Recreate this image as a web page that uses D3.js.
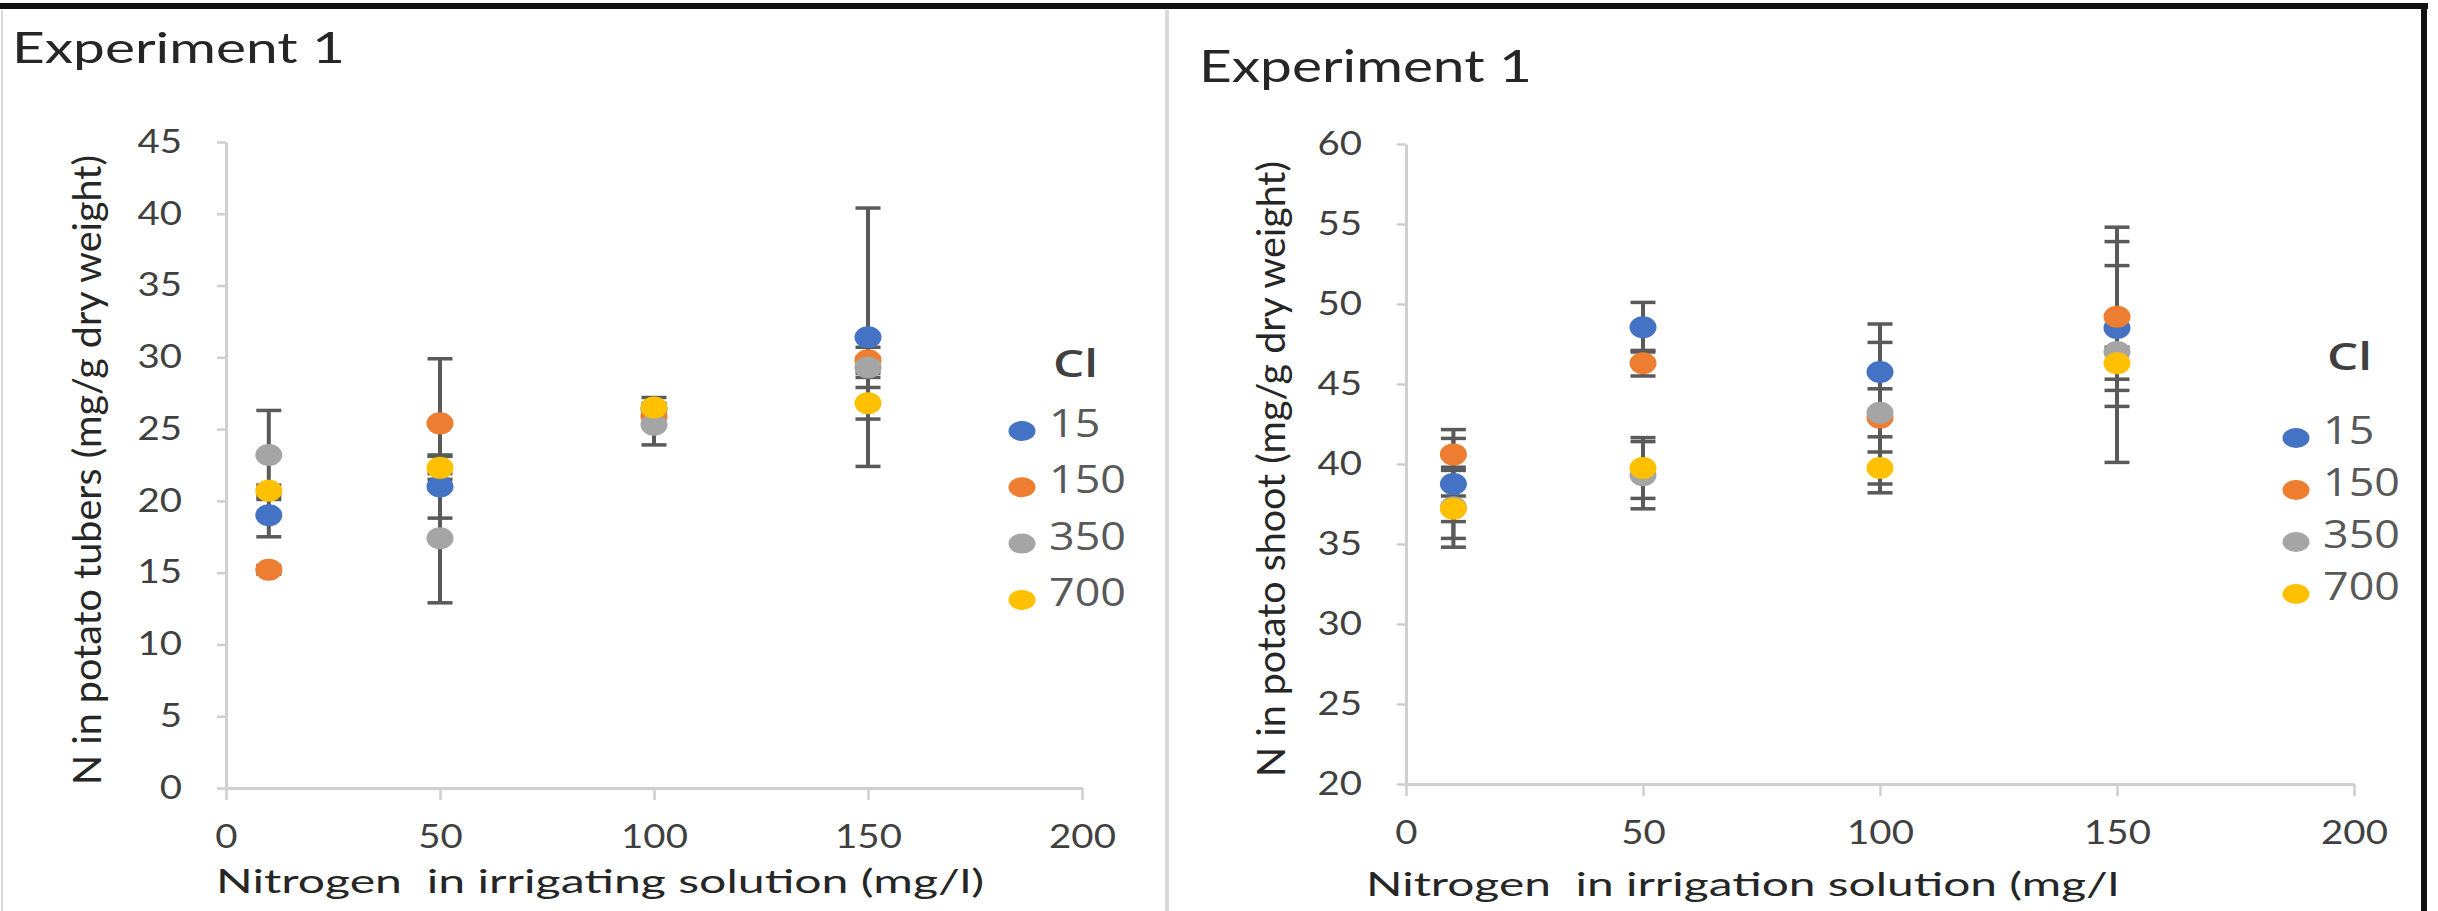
<!DOCTYPE html>
<html>
<head>
<meta charset="utf-8">
<script src="https://cdn.jsdelivr.net/npm/d3@7"></script>
<style>
  body { margin: 0; background: #ffffff; }
  svg { display: block; }
</style>
</head>
<body>
<svg id="chart" width="2438" height="911"></svg>
<script>
// Nitrogen supplied in the irrigation water (mg/l) and chloride treatments
const nitrogenLevels = [10, 50, 100, 150];
const chlorideLevels = ["15", "150", "350", "700"];
const seriesColors = ["#4472C4", "#ED7D31", "#A5A5A5", "#FFC000"];

// N in potato tubers (mg/g dry weight), one array per chloride level
const tuberN15  = [19.0, 21.0, 26.4, 31.4];
const tuberN150 = [15.2, 25.4, 25.9, 29.8];
const tuberN350 = [23.2, 17.4, 25.3, 29.3];
const tuberN700 = [20.7, 22.3, 26.5, 26.8];
const tuberErr15  = [1.5, 2.2, 0.4, 9.0];
const tuberErr150 = [0.3, 4.5, 0.5, 0.9];
const tuberErr350 = [3.1, 4.5, 1.4, 0.7];
const tuberErr700 = [0.4, 0.8, 0.7, 1.1];

// N in potato shoot (mg/g dry weight)
const shootN15  = [38.75, 48.55, 45.75, 48.5];
const shootN150 = [40.6, 46.3, 42.9, 49.2];
const shootN350 = [37.3, 39.3, 43.2, 47.0];
const shootN700 = [37.2, 39.75, 39.75, 46.3];
const shootErr15  = [3.4, 1.55, 3.0, 3.9];
const shootErr150 = [1.0, 0.8, 4.7, 5.6];
const shootErr350 = [2.5, 2.1, 1.5, 6.9];
const shootErr700 = [0.8, 1.9, 1.0, 1.0];

// Axis ticks
const nitrogenTicks = [0, 50, 100, 150, 200];
const tuberTicks = [0, 5, 10, 15, 20, 25, 30, 35, 40, 45];
const shootTicks = [20, 25, 30, 35, 40, 45, 50, 55, 60];

const svg = d3.select("#chart");
const FONT = "Lato, 'Open Sans', sans-serif";
const LEGEND_FONT = "'Open Sans', 'Noto Sans', sans-serif";
const LABEL_STRETCH = 1.2;

// Outer frame
svg.append("rect").attr("x", 0).attr("y", 0).attr("width", 2438).attr("height", 911).attr("fill", "#fff");
svg.append("line").attr("x1", 2).attr("x2", 2).attr("y1", 10).attr("y2", 911)
  .attr("stroke", "#d9d9d9").attr("stroke-width", 2);
svg.append("line").attr("x1", 1167).attr("x2", 1167).attr("y1", 10).attr("y2", 911)
  .attr("stroke", "#d9d9d9").attr("stroke-width", 4);
svg.append("line").attr("x1", 0).attr("x2", 2428).attr("y1", 6).attr("y2", 6)
  .attr("stroke", "#111").attr("stroke-width", 6);
svg.append("line").attr("x1", 2424).attr("x2", 2424).attr("y1", 3).attr("y2", 911)
  .attr("stroke", "#111").attr("stroke-width", 6);

const panels = [
  {
    title: "Experiment 1", titleX: 12, titleY: 63, titleSize: 43, titleLen: 333,
    yLabel: "N in potato tubers (mg/g dry weight)", yLabelX: 86, yLabelLen: 630,
    xLabel: "Nitrogen  in irrigating solution (mg/l)", xLabelX: 216, xLabelY: 893, xLabelLen: 768,
    left: 226, right: 1082, top: 142, bottom: 788,
    yDomain: [0, 45], yTicks: tuberTicks,
    means: [tuberN15, tuberN150, tuberN350, tuberN700],
    errs: [tuberErr15, tuberErr150, tuberErr350, tuberErr700],
    legendX: 1022, legendY: 431, legendStep: 56.3, legendTitleY: 377
  },
  {
    title: "Experiment 1", titleX: 1199, titleY: 82, titleSize: 44, titleLen: 333,
    yLabel: "N in potato shoot (mg/g dry weight)", yLabelX: 1270, yLabelLen: 616,
    xLabel: "Nitrogen  in irrigation solution (mg/l", xLabelX: 1366, xLabelY: 896, xLabelLen: 753,
    left: 1406, right: 2354, top: 144, bottom: 784,
    yDomain: [20, 60], yTicks: shootTicks,
    means: [shootN15, shootN150, shootN350, shootN700],
    errs: [shootErr15, shootErr150, shootErr350, shootErr700],
    legendX: 2296, legendY: 438, legendStep: 52, legendTitleY: 370
  }
];

panels.forEach(drawPanel);

function drawPanel(p) {
  const g = svg.append("g");
  const x = d3.scaleLinear().domain([0, 200]).range([p.left, p.right]);
  const y = d3.scaleLinear().domain(p.yDomain).range([p.bottom, p.top]);

  // Axes
  const yAxis = g.append("g").attr("transform", `translate(${p.left},0)`)
    .call(d3.axisLeft(y).tickValues(p.yTicks).tickSize(9).tickSizeOuter(0).tickPadding(35));
  const xAxis = g.append("g").attr("transform", `translate(0,${p.bottom})`)
    .call(d3.axisBottom(x).tickValues(nitrogenTicks).tickSize(12).tickSizeOuter(0).tickPadding(25));

  [yAxis, xAxis].forEach(ax => {
    ax.select(".domain").attr("stroke", "#cfcfcf").attr("stroke-width", 3);
    ax.selectAll(".tick line").attr("stroke", "#cfcfcf").attr("stroke-width", 2.5);
    ax.selectAll(".tick text")
      .attr("font-family", FONT).attr("font-size", 32).attr("fill", "#404040");
  });
  yAxis.selectAll(".tick text").each(function () {
    const t = d3.select(this);
    t.attr("x", +t.attr("x") / LABEL_STRETCH).attr("transform", `scale(${LABEL_STRETCH},1)`);
  });
  xAxis.selectAll(".tick text").attr("transform", `scale(${LABEL_STRETCH},1)`);

  // Error bars first, markers drawn on top
  const capHalf = 12.5;
  p.means.forEach((vals, si) => {
    const errs = p.errs[si];
    const eg = g.append("g").attr("stroke", "#5a5a5a").attr("fill", "none");
    nitrogenLevels.forEach((n, i) => {
      const cx = x(n), hi = y(vals[i] + errs[i]), lo = y(vals[i] - errs[i]);
      eg.append("line").attr("x1", cx).attr("x2", cx).attr("y1", hi).attr("y2", lo).attr("stroke-width", 4);
      eg.append("line").attr("x1", cx - capHalf).attr("x2", cx + capHalf).attr("y1", hi).attr("y2", hi).attr("stroke-width", 3.5);
      eg.append("line").attr("x1", cx - capHalf).attr("x2", cx + capHalf).attr("y1", lo).attr("y2", lo).attr("stroke-width", 3.5);
    });
  });
  p.means.forEach((vals, si) => {
    g.append("g").selectAll("ellipse").data(vals).join("ellipse")
      .attr("cx", (d, i) => x(nitrogenLevels[i]))
      .attr("cy", d => y(d))
      .attr("rx", 13.5).attr("ry", 11)
      .attr("fill", seriesColors[si]);
  });

  // Panel title
  g.append("text").attr("x", p.titleX).attr("y", p.titleY)
    .attr("font-family", FONT).attr("font-size", p.titleSize).attr("fill", "#262626")
    .attr("textLength", p.titleLen).attr("lengthAdjust", "spacingAndGlyphs")
    .text(p.title);

  // Axis titles
  const yMid = (p.top + p.bottom) / 2 + 5;
  g.append("text")
    .attr("transform", `translate(${p.yLabelX},${yMid}) rotate(-90)`)
    .attr("text-anchor", "middle").attr("dominant-baseline", "central")
    .attr("font-family", FONT).attr("font-size", 38).attr("fill", "#262626")
    .attr("textLength", p.yLabelLen).attr("lengthAdjust", "spacingAndGlyphs")
    .text(p.yLabel);
  g.append("text").attr("x", p.xLabelX).attr("y", p.xLabelY)
    .style("white-space", "pre")
    .attr("font-family", FONT).attr("font-size", 33).attr("fill", "#262626")
    .attr("textLength", p.xLabelLen).attr("lengthAdjust", "spacingAndGlyphs")
    .text(p.xLabel);

  // Legend
  const lg = g.append("g");
  lg.append("text").attr("x", p.legendX + 31).attr("y", p.legendTitleY)
    .attr("font-family", LEGEND_FONT).attr("font-weight", 600).attr("font-size", 38).attr("fill", "#404040")
    .attr("textLength", 45).attr("lengthAdjust", "spacingAndGlyphs")
    .text("Cl");
  chlorideLevels.forEach((lab, i) => {
    const ly = p.legendY + i * p.legendStep;
    lg.append("ellipse").attr("cx", p.legendX).attr("cy", ly).attr("rx", 13.5).attr("ry", 10)
      .attr("fill", seriesColors[i]);
    lg.append("text")
      .attr("transform", `translate(${p.legendX + 27},${ly + 6}) scale(1.18,1)`)
      .attr("font-family", LEGEND_FONT).attr("font-size", 38).attr("fill", "#595959")
      .text(lab);
  });
}
</script>
</body>
</html>
